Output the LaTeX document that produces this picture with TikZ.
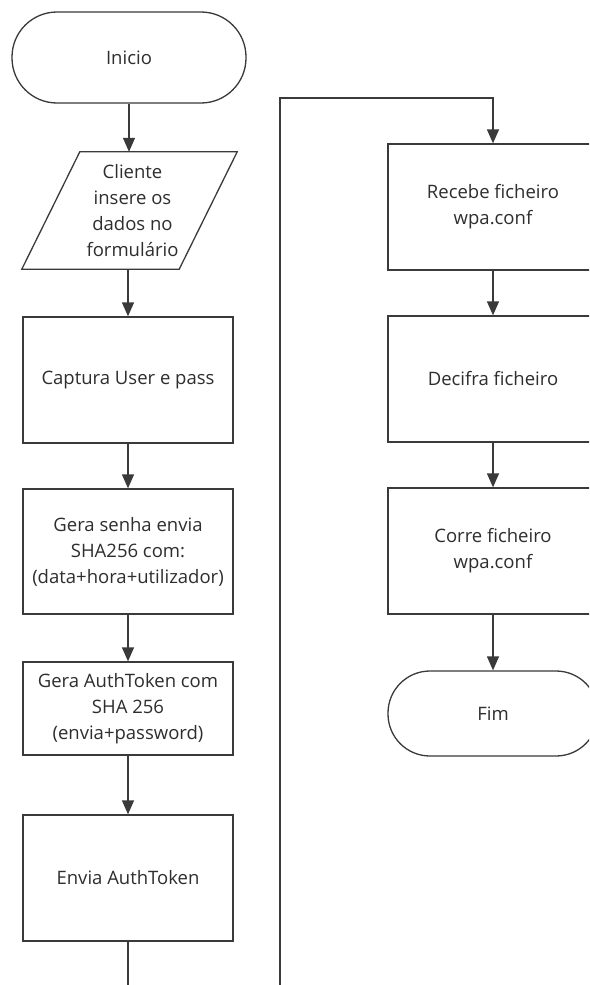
\documentclass[tikz,border=0pt]{standalone}
\usepackage{fontspec}
\setmainfont{Open Sans}
\usetikzlibrary{arrows.meta}
\definecolor{linec}{HTML}{3A3A3A}
\definecolor{txt}{HTML}{2E2E2E}
\begin{document}
\begin{tikzpicture}[x=1pt,y=-1pt,
  line/.style={draw=linec, line width=1.3pt},
  arr/.style={line, -{Triangle[width=12pt,length=14pt]}},
  lbl/.style={align=center, text=txt, inner sep=2pt, font=\fontsize{18.5}{26}\selectfont},
  box/.style={lbl, line, rectangle, minimum width=210pt, minimum height=126pt},
  term/.style={lbl, line, rectangle, rounded corners=#1}
]
\useasboundingbox (0,0) rectangle (589,985);
\clip (0,0) rectangle (589,985);
\fill[white] (0,0) rectangle (589,985);

% left column
\node[term=45pt, minimum width=234pt, minimum height=91pt] (inicio) at (129,57.5) {Inicio};
\node[lbl, minimum width=215pt, minimum height=117pt] (dados) at (129.5,210.5)
  {\hspace*{6pt}Cliente\\\hspace*{6pt}insere os\\\hspace*{6pt}dados no\\\hspace*{6pt}formulário};
\draw[line] ([xshift=58pt]dados.north west) -- (dados.north east)
  -- ([xshift=-58pt]dados.south east) -- (dados.south west) -- cycle;
\node[box] (captura) at (128,380) {Captura User e pass};
\node[box, minimum height=125pt] (senha) at (128,551.5)
  {Gera senha envia\\SHA256 com:\\(data+hora+utilizador)};
\node[box, minimum height=93pt] (token) at (128,708.5)
  {Gera AuthToken com\\SHA 256\\(envia+password)};
\node[box] (envia) at (128,878) {Envia AuthToken};

% right column
\node[box] (recebe) at (493,207) {Recebe ficheiro\\wpa.conf};
\node[box] (decifra) at (493,379) {Decifra ficheiro};
\node[box] (corre) at (493,551) {Corre ficheiro\\wpa.conf};
\node[term=42pt, minimum width=210pt, minimum height=85pt] (fim) at (493,713.5) {Fim};

% connectors
\draw[arr] (inicio.south) -- (dados.north -| inicio.south);
\draw[arr] (dados.south -| captura.north) -- (captura.north);
\draw[arr] (captura) -- (senha);
\draw[arr] (senha) -- (token);
\draw[arr] (token) -- (envia);
\coordinate (low1) at (128,1000);
\coordinate (low2) at (280,1000);
\coordinate (top1) at (280,98);
\coordinate (top2) at (493,98);
\draw[arr] (envia.south) -- (low1) -- (low2) -- (top1) -- (top2) -- (recebe.north);
\draw[arr] (recebe) -- (decifra);
\draw[arr] (decifra) -- (corre);
\draw[arr] (corre) -- (fim);
\end{tikzpicture}
\end{document}
